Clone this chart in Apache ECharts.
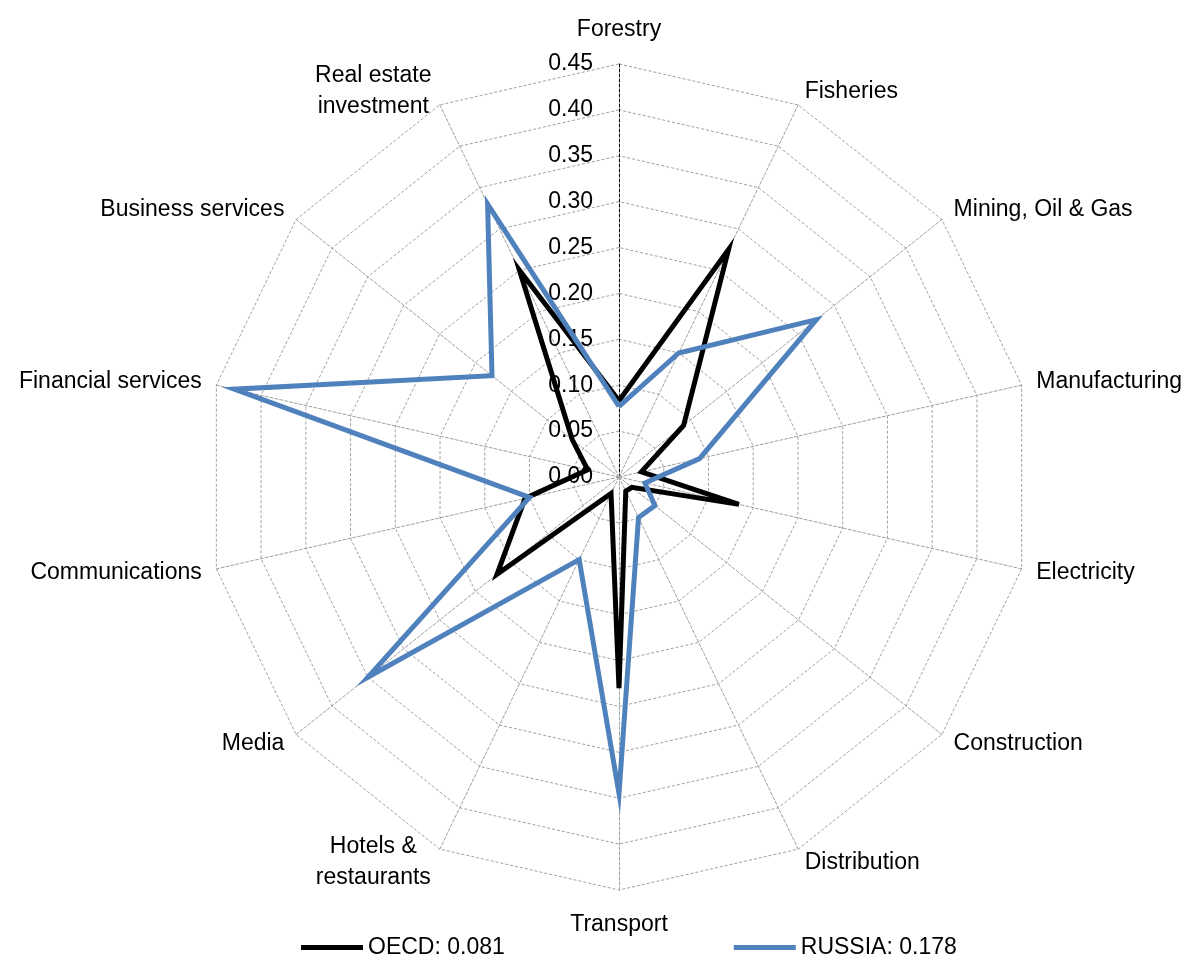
<!DOCTYPE html>
<html style="height: 100%">
<head>
<meta charset="utf-8">
<title>Radar</title>
</head>
<body style="height: 100%; margin: 0">
<div id="container" style="width: 1187px; height: 959px"></div>
<script src="https://cdn.jsdelivr.net/npm/echarts@6/dist/echarts.min.js"></script>
<script>
var categories = ['Forestry', 'Fisheries', 'Mining, Oil & Gas', 'Manufacturing', 'Electricity',
    'Construction', 'Distribution', 'Transport', 'Hotels &\nrestaurants', 'Media',
    'Communications', 'Financial services', 'Business services', 'Real estate\ninvestment'];
var oecd = [0.083, 0.275, 0.09, 0.025, 0.134, 0.018, 0.017, 0.23, 0.02, 0.17, 0.105, 0.035, 0.065, 0.25];
var russia = [0.077, 0.15, 0.275, 0.09, 0.029, 0.05, 0.049, 0.345, 0.10, 0.35, 0.10, 0.43, 0.177, 0.33];
var seriesNames = ['OECD: 0.081', 'RUSSIA: 0.178'];
var axisMin = 0, axisMax = 0.45, splitCount = 9;

var FONT = '"Liberation Sans", Arial, sans-serif';
var FS = 23;

// radar runs counterclockwise, the chart runs clockwise -> keep first, reverse the rest
var order = [0];
for (var i = categories.length - 1; i > 0; i--) order.push(i);
function reorder(arr) { return order.map(function (k) { return arr[k]; }); }

var indicator = reorder(categories).map(function (name, i) {
    var ind = { name: name, min: axisMin, max: axisMax };
    if (i === 0) {
        ind.axisLabel = { show: true };
        ind.axisLine = { lineStyle: { color: '#000', type: [3, 2], width: 1 } };
    }
    return ind;
});

var myChart = echarts.init(document.getElementById('container'));
var option = {
    animation: false,
    backgroundColor: '#fff',
    textStyle: { fontFamily: FONT },
    legend: {
        left: 296,
        top: 931,
        itemWidth: 62,
        itemHeight: 5,
        itemGap: 229,
        icon: 'rect',
        textStyle: { fontSize: FS, color: '#000', fontFamily: FONT },
        data: seriesNames
    },
    radar: {
        center: [619, 477],
        radius: 413,
        startAngle: 90,
        shape: 'polygon',
        splitNumber: splitCount,
        axisName: {
            color: '#000',
            fontSize: FS,
            fontFamily: FONT,
            formatter: function (name) {
                if (name === categories[0]) return '{top|' + name + '}';
                if (name === categories[7]) return '{bot|' + name + '}';
                if (name.indexOf('\n') < 0) return name;
                return name.split('\n').map(function (s) { return '{c|' + s + '}'; }).join('\n');
            },
            rich: {
                c: { width: 120, align: 'center', fontSize: FS, lineHeight: 31, color: '#000', fontFamily: FONT },
                top: { fontSize: FS, color: '#000', fontFamily: FONT, padding: [0, 0, 8, 0] },
                bot: { fontSize: FS, color: '#000', fontFamily: FONT, padding: [8, 0, 0, 0] }
            }
        },
        nameGap: 15,
        axisLine: { show: true, lineStyle: { color: '#a0a0a0', type: [3, 2], width: 1 } },
        splitLine: { lineStyle: { color: '#a0a0a0', type: [3, 2], width: 1 } },
        splitArea: { show: false },
        axisTick: { show: false },
        axisLabel: {
            show: false,
            color: '#000',
            fontSize: FS,
            fontFamily: FONT,
            margin: 26,
            formatter: function (v) { return v.toFixed(2); }
        },
        indicator: indicator
    },
    series: [{
        type: 'radar',
        symbol: 'none',
        data: [
            {
                name: seriesNames[0],
                value: reorder(oecd),
                lineStyle: { color: '#000', width: 5, join: 'miter' },
                itemStyle: { color: '#000' }
            },
            {
                name: seriesNames[1],
                value: reorder(russia),
                lineStyle: { color: '#4f81bd', width: 5, join: 'miter' },
                itemStyle: { color: '#4f81bd' }
            }
        ],
        z: 3
    }]
};
myChart.setOption(option);
</script>
</body>
</html>
